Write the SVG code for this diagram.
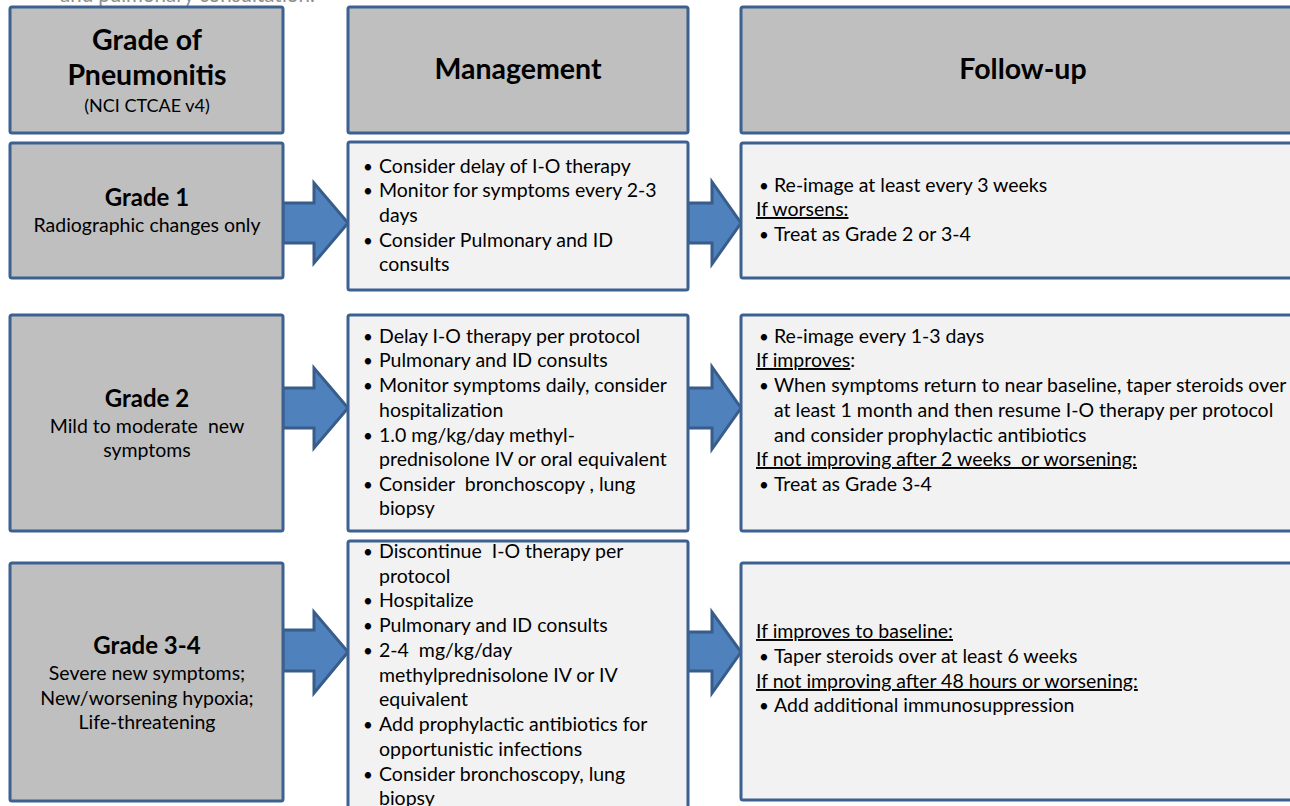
<svg xmlns="http://www.w3.org/2000/svg" width="1290" height="806" viewBox="0 0 1290 806">
  <style>
    .grade { fill: #BFBFBF; stroke: #3C6190; stroke-width: 3; }
    .panel { fill: #F2F2F2; stroke: #3C6190; stroke-width: 3; }
    .arrow { fill: #4F81BD; stroke: #385D8A; stroke-width: 3; stroke-linejoin: miter; }
    text { font-family: Lato, "Liberation Sans", sans-serif; fill: #000; }
    .head { font-size: 28.5px; font-weight: bold; text-anchor: middle; }
    .title { font-size: 24px; font-weight: bold; text-anchor: middle; }
    .sub { font-size: 19.5px; text-anchor: middle; }
    .note { font-size: 18px; text-anchor: middle; }
    .body { font-size: 19.5px; }
    .dot { font-size: 17px; }
    .pre { white-space: pre; }
    .u { text-decoration: underline; }
    .cut { font-size: 20.5px; fill: #8f8f8f; }
  </style>

  <rect width="1290" height="806" fill="#FFFFFF"/>

  <!-- tail of the preceding line, clipped at the top edge -->
  <text class="cut" x="60" y="2">and pulmonary consultation.</text>

  <!-- block arrows between columns -->
  <g id="connectors">
    <polygon class="arrow" points="283,203 314,203 314,183 348,223 314,263 314,243 283,243"/>
    <polygon class="arrow" points="688,203 712,203 712,182 741,223 712,264 712,243 688,243"/>
    <polygon class="arrow" points="283,388 314,388 314,368 348,408 314,448 314,428 283,428"/>
    <polygon class="arrow" points="688,388 712,388 712,367 741,408 712,449 712,428 688,428"/>
    <polygon class="arrow" points="283,630 314,630 314,612 348,652 314,693 314,671 283,671"/>
    <polygon class="arrow" points="688,632 712,632 712,612 741,652 712,693 712,671 688,671"/>
  </g>

  <!-- column headers -->
  <g id="hdr-grade">
    <rect class="grade" x="10" y="7" width="273" height="126" rx="2"/>
    <text class="head" x="147" y="50">Grade of</text>
    <text class="head" x="147" y="85">Pneumonitis</text>
    <text class="note" x="147" y="112">(NCI CTCAE v4)</text>
  </g>
  <g id="hdr-management">
    <rect class="grade" x="348" y="7" width="340" height="126" rx="2"/>
    <text class="head" x="518" y="79">Management</text>
  </g>
  <g id="hdr-followup">
    <rect class="grade" x="741" y="7" width="570" height="126" rx="2"/>
    <text class="head" x="1023" y="79">Follow-up</text>
  </g>

  <!-- Grade 1 row -->
  <g id="grade1">
    <rect class="grade" x="10" y="143" width="273" height="135" rx="2"/>
    <text class="title" x="147" y="206">Grade 1</text>
    <text class="sub" x="147" y="232">Radiographic changes only</text>
  </g>
  <g id="grade1-management">
    <rect class="panel" x="348" y="142" width="340" height="148" rx="2"/>
    <text class="body dot" x="363" y="173">•</text>
    <text class="body" x="379" y="173">Consider delay of I-O therapy</text>
    <text class="body dot" x="363" y="197">•</text>
    <text class="body" x="379" y="197">Monitor for symptoms every 2-3</text>
    <text class="body" x="379" y="222">days</text>
    <text class="body dot" x="363" y="247">•</text>
    <text class="body" x="379" y="247">Consider Pulmonary and ID</text>
    <text class="body" x="379" y="271">consults</text>
  </g>
  <g id="grade1-followup">
    <rect class="panel" x="741" y="143" width="570" height="135" rx="2"/>
    <text class="body dot" x="759" y="192">•</text>
    <text class="body" x="774" y="192">Re-image at least every 3 weeks</text>
    <text class="body u" x="756" y="216">If worsens:</text>
    <text class="body dot" x="759" y="241">•</text>
    <text class="body" x="774" y="241">Treat as Grade 2 or 3-4</text>
  </g>

  <!-- Grade 2 row -->
  <g id="grade2">
    <rect class="grade" x="10" y="315" width="273" height="216" rx="2"/>
    <text class="title" x="147" y="407">Grade 2</text>
    <text class="sub pre" x="147" y="433">Mild to moderate  new</text>
    <text class="sub" x="147" y="457">symptoms</text>
  </g>
  <g id="grade2-management">
    <rect class="panel" x="348" y="315" width="340" height="216" rx="2"/>
    <text class="body dot" x="363" y="343">•</text>
    <text class="body" x="379" y="343">Delay I-O therapy per protocol</text>
    <text class="body dot" x="363" y="367">•</text>
    <text class="body" x="379" y="367">Pulmonary and ID consults</text>
    <text class="body dot" x="363" y="392">•</text>
    <text class="body" x="379" y="392">Monitor symptoms daily, consider</text>
    <text class="body" x="379" y="417">hospitalization</text>
    <text class="body dot" x="363" y="442">•</text>
    <text class="body" x="379" y="442">1.0 mg/kg/day methyl-</text>
    <text class="body" x="379" y="466">prednisolone IV or oral equivalent</text>
    <text class="body dot" x="363" y="491">•</text>
    <text class="body pre" x="379" y="491">Consider  bronchoscopy , lung</text>
    <text class="body" x="379" y="515">biopsy</text>
  </g>
  <g id="grade2-followup">
    <rect class="panel" x="741" y="315" width="570" height="216" rx="2"/>
    <text class="body dot" x="759" y="343">•</text>
    <text class="body" x="774" y="343">Re-image every 1-3 days</text>
    <text class="body" x="756" y="367"><tspan class="u">If improves</tspan>:</text>
    <text class="body dot" x="759" y="392">•</text>
    <text class="body" x="774" y="392">When symptoms return to near baseline, taper steroids over</text>
    <text class="body" x="774" y="417">at least 1 month and then resume I-O therapy per protocol</text>
    <text class="body" x="774" y="442">and consider prophylactic antibiotics</text>
    <text class="body u pre" x="756" y="466">If not improving after 2 weeks  or worsening:</text>
    <text class="body dot" x="759" y="491">•</text>
    <text class="body" x="774" y="491">Treat as Grade 3-4</text>
  </g>

  <!-- Grade 3-4 row -->
  <g id="grade3-4">
    <rect class="grade" x="10" y="563" width="273" height="238" rx="2"/>
    <text class="title" x="147" y="654">Grade 3-4</text>
    <text class="sub" x="147" y="680">Severe new symptoms;</text>
    <text class="sub" x="147" y="705">New/worsening hypoxia;</text>
    <text class="sub" x="147" y="729">Life-threatening</text>
  </g>
  <g id="grade3-4-management">
    <rect class="panel" x="348" y="541" width="340" height="290" rx="2"/>
    <text class="body dot" x="363" y="558">•</text>
    <text class="body pre" x="379" y="558">Discontinue  I-O therapy per</text>
    <text class="body" x="379" y="583">protocol</text>
    <text class="body dot" x="363" y="607">•</text>
    <text class="body" x="379" y="607">Hospitalize</text>
    <text class="body dot" x="363" y="632">•</text>
    <text class="body" x="379" y="632">Pulmonary and ID consults</text>
    <text class="body dot" x="363" y="657">•</text>
    <text class="body pre" x="379" y="657">2-4  mg/kg/day</text>
    <text class="body" x="379" y="682">methylprednisolone IV or IV</text>
    <text class="body" x="379" y="706">equivalent</text>
    <text class="body dot" x="363" y="731">•</text>
    <text class="body" x="379" y="731">Add prophylactic antibiotics for</text>
    <text class="body" x="379" y="756">opportunistic infections</text>
    <text class="body dot" x="363" y="781">•</text>
    <text class="body" x="379" y="781">Consider bronchoscopy, lung</text>
    <text class="body" x="379" y="805">biopsy</text>
  </g>
  <g id="grade3-4-followup">
    <rect class="panel" x="741" y="563" width="570" height="237" rx="2"/>
    <text class="body u" x="756" y="638">If improves to baseline:</text>
    <text class="body dot" x="759" y="663">•</text>
    <text class="body" x="774" y="663">Taper steroids over at least 6 weeks</text>
    <text class="body u" x="756" y="688">If not improving after 48 hours or worsening:</text>
    <text class="body dot" x="759" y="712">•</text>
    <text class="body" x="774" y="712">Add additional immunosuppression</text>
  </g>
</svg>
